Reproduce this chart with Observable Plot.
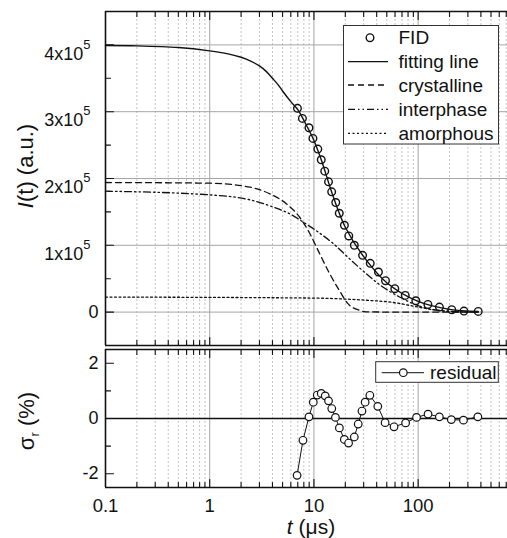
<!DOCTYPE html>
<html><head><meta charset="utf-8">
<script src="https://cdn.jsdelivr.net/npm/d3@7"></script>
<script src="https://cdn.jsdelivr.net/npm/@observablehq/plot@0.6"></script>
<style>
body{margin:0;background:#fff}
#wrap{position:relative;width:507px;height:538px;overflow:hidden;background:#fff;font-family:"Liberation Sans",Arial,sans-serif}
#wrap svg{position:absolute;left:0;overflow:visible}
</style></head><body><div id="wrap"></div>
<script>
// ---------- data (intensity in units of 1e5 a.u., t in µs) ----------
const yUnit = 1e5;
const fidT = [6.95, 7.75, 8.96, 9.78, 10.9, 11.75, 12.7, 13.8, 14.8, 16.2, 17.5, 19.6, 21.6, 24.4, 29.3, 34.7, 41.6, 48.6, 59.7, 75.2, 95, 124, 160, 210, 275, 377];
const fidI = [3.05, 2.90, 2.76, 2.60, 2.44, 2.28, 2.11, 1.95, 1.80, 1.64, 1.48, 1.30, 1.14, 1.00, 0.85, 0.73, 0.60, 0.47, 0.35, 0.25, 0.17, 0.115, 0.075, 0.036, 0.015, 0.01];

const fitT = [0.1, 0.2, 0.5, 1, 1.5, 2, 2.5, 3, 3.5, 4, 4.5, 5, 6, 7, 8, 10, 12, 15, 20, 30, 50, 100, 200, 377];
const fitI = [3.99, 3.985, 3.96, 3.91, 3.865, 3.815, 3.755, 3.685, 3.6, 3.5, 3.41, 3.31, 3.15, 3.03, 2.87, 2.57, 2.24, 1.77, 1.27, 0.83, 0.44, 0.16, 0.04, 0.01];

const crysT = [0.1, 1, 2.44, 3.78, 5.46, 7.3, 9.1, 11.3, 14.1, 17.6, 21.1, 27.6, 31.5, 60, 377];
const crysI = [1.94, 1.93, 1.87, 1.77, 1.62, 1.42, 1.18, 0.88, 0.58, 0.32, 0.13, 0.025, 0.004, 0, 0];

const interT = [0.1, 1, 2.44, 3.78, 6.3, 7.85, 10.5, 15.2, 21.9, 31.5, 45.4, 65.6, 94.5, 135, 200, 377];
const interI = [1.81, 1.755, 1.68, 1.59, 1.445, 1.35, 1.22, 1.03, 0.80, 0.58, 0.38, 0.23, 0.11, 0.04, 0.01, 0];

const amorT = [0.1, 10, 20, 30, 60, 100, 150, 250, 377];
const amorI = [0.225, 0.21, 0.195, 0.18, 0.14, 0.075, 0.03, 0.005, 0];

const resT = [6.89, 7.85, 8.96, 9.86, 10.76, 11.75, 12.83, 13.8, 14.83, 16.08, 17.55, 19.57, 21.5, 24.4, 26.6, 28.9, 31.0, 34.4, 41.0, 48.2, 58.7, 75.8, 96.5, 124.4, 159.7, 208, 272, 374];
const resV = [-2.06, -0.79, 0.06, 0.59, 0.85, 0.91, 0.82, 0.64, 0.36, 0.04, -0.34, -0.76, -0.89, -0.67, -0.2, 0.27, 0.59, 0.84, 0.44, -0.15, -0.3, -0.16, 0.04, 0.16, 0.06, -0.04, -0.06, 0.06];

const xDomain = [0.1, 720];
const xMajor = [0.1, 1, 10, 100];
const xGridMajor = [1, 10, 100];
const xMinor = [0.2,0.3,0.4,0.5,0.6,0.7,0.8,0.9, 2,3,4,5,6,7,8,9, 20,30,40,50,60,70,80,90, 200,300,400,500,600,700];
const xTickLabels = ["0.1", "1", "10", "100"];

const yTopDomain = [-0.5, 4.5];
const yTopMajor = [0, 1, 2, 3, 4];
const yTopMinor = [0.5, 1.5, 2.5, 3.5];
const yTopLabels = ["0", "1x10^5", "2x10^5", "3x10^5", "4x10^5"];

const yBotDomain = [-2.5, 2.5];
const yBotMajor = [-2, 0, 2];
const yBotMinor = [-1, 1];
const yBotLabels = ["-2", "0", "2"];

const legendTop = ["FID", "fitting line", "crystalline", "interphase", "amorphous"];
const legendBot = ["residual"];

// ---------- helpers ----------
const FONT = "Liberation Sans, Arial, sans-serif";
const tbl = (T, V, k = 1) => T.map((t, i) => ({t, v: V[i] * k}));
const fid = tbl(fidT, fidI, yUnit), fit = tbl(fitT, fitI, yUnit), crys = tbl(crysT, crysI, yUnit),
      inter = tbl(interT, interI, yUnit), amor = tbl(amorT, amorI, yUnit), res = tbl(resT, resV);
const gridMinor = {stroke: "#c4c4c4", strokeWidth: 1, strokeDasharray: "2,2"};
const gridMaj = {stroke: "#a6a6a6", strokeWidth: 1};
const frameStyle = {stroke: "#111", strokeWidth: 1.6};
const tickShape = {draw(context, l) { context.moveTo(0, 0); context.lineTo(0, -l); }};
const tick = (data, chan, anchor, rot, len) => Plot.vector(data, {[chan]: d => d, frameAnchor: anchor, rotate: rot, length: len, anchor: "start", shape: tickShape, stroke: "#111", strokeWidth: 1.1});
const DASH = {crys: "6,4", inter: "7,3,1.5,3,1.5,3", amor: "2,2.5"};

// ---------- top panel ----------
const W = 507, H1 = 346, H2 = 192;
const topPlot = Plot.plot({
  width: W, height: H1, marginLeft: 105, marginRight: 0, marginTop: 11, marginBottom: 1,
  style: {fontFamily: FONT, fontSize: "18px", background: "transparent", color: "#111", overflow: "visible"},
  x: {type: "log", domain: xDomain, axis: null},
  y: {domain: yTopDomain.map(d => d * yUnit), axis: null},
  marks: [
    Plot.ruleX(xMinor, gridMinor),
    Plot.ruleX(xGridMajor, gridMaj),
    Plot.ruleY(yTopMajor.map(d => d * yUnit), gridMaj),
    Plot.line(amor, {x: "t", y: "v", stroke: "#111", strokeWidth: 1.3, strokeDasharray: DASH.amor, curve: "monotone-x"}),
    Plot.line(inter, {x: "t", y: "v", stroke: "#111", strokeWidth: 1.3, strokeDasharray: DASH.inter, curve: "monotone-x"}),
    Plot.line(crys, {x: "t", y: "v", stroke: "#111", strokeWidth: 1.3, strokeDasharray: DASH.crys, curve: "monotone-x"}),
    Plot.line(fit, {x: "t", y: "v", stroke: "#111", strokeWidth: 1.4, curve: "catmull-rom"}),
    Plot.dot(fid, {x: "t", y: "v", r: 3.8, stroke: "#111", strokeWidth: 1.4, fill: "none"}),
    tick(yTopMajor.map(d => d * yUnit), "y", "left", 90, 8),
    tick(yTopMinor.map(d => d * yUnit), "y", "left", 90, 5),
    tick(xMinor, "x", "top", 180, 5),
    tick(xGridMajor, "x", "top", 180, 8),
    tick(xMinor, "x", "bottom", 0, 5),
    tick(xGridMajor, "x", "bottom", 0, 8),
    Plot.ruleX([xDomain[0]], frameStyle),
    Plot.ruleY(yTopDomain.map(d => d * yUnit), frameStyle),
    Plot.axisY(yTopMajor.map(d => d * yUnit), {tickSize: 0, tickPadding: 7, label: null,
      tickFormat: (d) => yTopLabels[yTopMajor.indexOf(d / yUnit)], fontSize: 18})
  ]
});
topPlot.style.top = "0px";

// ---------- bottom panel ----------
const botPlot = Plot.plot({
  width: W, height: H2, marginLeft: 105, marginRight: 0, marginTop: 3, marginBottom: 51,
  style: {fontFamily: FONT, fontSize: "18px", background: "transparent", color: "#111", overflow: "visible"},
  x: {type: "log", domain: xDomain, axis: null},
  y: {domain: yBotDomain, axis: null},
  marks: [
    Plot.ruleX(xMinor, gridMinor),
    Plot.ruleX(xGridMajor, gridMaj),
    Plot.ruleY([0], {stroke: "#111", strokeWidth: 1.4}),
    Plot.line(res, {x: "t", y: "v", stroke: "#111", strokeWidth: 1}),
    Plot.dot(res, {x: "t", y: "v", r: 3.8, stroke: "#111", strokeWidth: 1.2, fill: "white"}),
    tick(yBotMajor, "y", "left", 90, 8),
    tick(yBotMinor, "y", "left", 90, 5),
    tick(xMinor, "x", "top", 180, 5),
    tick(xGridMajor, "x", "top", 180, 8),
    tick(xMinor, "x", "bottom", 0, 5),
    tick(xGridMajor, "x", "bottom", 0, 8),
    Plot.ruleX([xDomain[0]], frameStyle),
    Plot.ruleY(yBotDomain, frameStyle),
    Plot.axisY(yBotMajor, {tickSize: 0, tickPadding: 7, label: null,
      tickFormat: d => yBotLabels[yBotMajor.indexOf(d)], fontSize: 18}),
    Plot.axisX(xMajor, {tickSize: 0, tickPadding: 11, label: null,
      tickFormat: d => xTickLabels[xMajor.indexOf(d)], fontSize: 18.5})
  ]
});
botPlot.style.top = H1 + "px";

const wrap = document.getElementById("wrap");
wrap.appendChild(topPlot);
wrap.appendChild(botPlot);

// ---------- superscripts in top y tick labels ----------
d3.select(topPlot).selectAll('g[aria-label="y-axis tick label"] text').each(function () {
  const s = this.textContent, m = s.match(/^(.+)\^(.+)$/);
  if (!m) return;
  const el = d3.select(this);
  el.text(null).attr("dy", "0.5em").attr("dx", -8);
  el.append("tspan").text(m[1]);
  el.append("tspan").attr("dy", -11).attr("font-size", 13).text(m[2]);
});

// ---------- axis titles ----------
const ts = d3.select(topPlot);
const t1 = ts.append("text").attr("transform", "translate(33,166) rotate(-90)")
  .attr("text-anchor", "middle").attr("font-size", 22).attr("font-family", FONT).attr("fill", "#111");
t1.append("tspan").attr("font-style", "italic").text("I");
t1.append("tspan").text("(t) (a.u.)");

const bs = d3.select(botPlot);
const t2 = bs.append("text").attr("transform", "translate(34,75) rotate(-90)")
  .attr("text-anchor", "middle").attr("font-size", 22).attr("font-family", FONT).attr("fill", "#111");
t2.append("tspan").text("σ");
t2.append("tspan").attr("font-size", 13).attr("dy", 5).text("r");
t2.append("tspan").attr("dy", -5).text(" (%)");

const t3 = bs.append("text").attr("x", 311).attr("y", 187.5)
  .attr("text-anchor", "middle").attr("font-size", 21).attr("font-family", FONT).attr("fill", "#111");
t3.append("tspan").attr("font-style", "italic").text("t");
t3.append("tspan").text(" (μs)");

// ---------- legends ----------
const lg = ts.append("g").attr("font-family", FONT).attr("font-size", 19).attr("fill", "#111").attr("text-anchor", "start");
lg.append("rect").attr("x", 343.5).attr("y", 25.5).attr("width", 155).attr("height", 118.5)
  .attr("fill", "white").attr("stroke", "#333").attr("stroke-width", 1);
const ly = [37.7, 61.7, 85, 109.3, 133.3];
const ldash = [null, null, DASH.crys, DASH.inter, DASH.amor];
legendTop.forEach((name, i) => {
  if (i === 0) {
    lg.append("circle").attr("cx", 370).attr("cy", ly[i]).attr("r", 3.8).attr("fill", "none").attr("stroke", "#111").attr("stroke-width", 1.4);
  } else {
    lg.append("line").attr("x1", 348).attr("x2", 388).attr("y1", ly[i]).attr("y2", ly[i])
      .attr("stroke", "#111").attr("stroke-width", 1.3).attr("stroke-dasharray", ldash[i]);
  }
  lg.append("text").attr("x", 398.5).attr("y", ly[i]).attr("dy", "0.35em").attr("text-anchor", "start").text(name);
});

const lb = bs.append("g").attr("font-family", FONT).attr("font-size", 19).attr("fill", "#111").attr("text-anchor", "start");
lb.append("rect").attr("x", 375.7).attr("y", 15.7).attr("width", 122.6).attr("height", 20.6)
  .attr("fill", "white").attr("stroke", "#333").attr("stroke-width", 1);
lb.append("line").attr("x1", 381.7).attr("x2", 424).attr("y1", 26.7).attr("y2", 26.7).attr("stroke", "#111").attr("stroke-width", 1);
lb.append("circle").attr("cx", 403.3).attr("cy", 26.7).attr("r", 3.8).attr("fill", "white").attr("stroke", "#111").attr("stroke-width", 1.2);
lb.append("text").attr("x", 430).attr("y", 26.7).attr("dy", "0.35em").attr("text-anchor", "start").text(legendBot[0]);
</script>
</body></html>
